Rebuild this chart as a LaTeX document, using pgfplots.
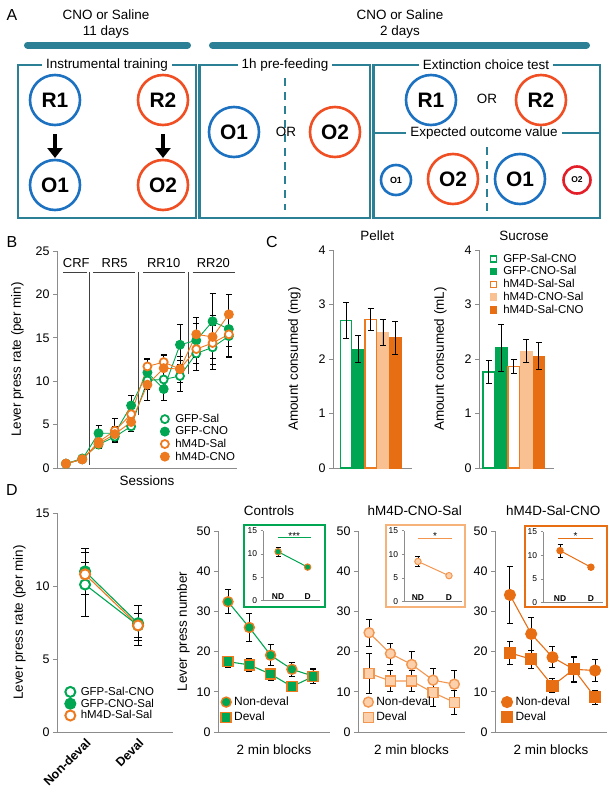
\documentclass[border=0pt]{standalone}
\usepackage{pgfplots}
\pgfplotsset{compat=1.18}
\usepackage{pgfplotstable}
\usepackage{fontspec}
\setmainfont{Liberation Sans}
\usetikzlibrary{arrows.meta}

\definecolor{gr}{RGB}{0,166,81}
\definecolor{orH}{RGB}{238,122,32}
\definecolor{orL}{RGB}{249,192,145}
\definecolor{orD}{RGB}{232,110,20}
\definecolor{orM}{RGB}{242,150,80}
\definecolor{peach}{RGB}{251,208,170}
\definecolor{tealA}{RGB}{43,128,150}
\definecolor{blueA}{RGB}{28,113,193}
\definecolor{redA}{RGB}{240,78,35}
\definecolor{redB}{RGB}{228,30,40}
\definecolor{axgray}{RGB}{140,140,140}

\newcommand{\fs}[1]{\fontsize{#1}{#1}\selectfont}
\newcommand{\cnode}[5]{\node[circle, draw=#1, line width=2.6bp, minimum size=#2bp, inner sep=0pt, font=\bfseries\fs{#3}] at (#4) {#5};}

\pgfplotstableread{
s  a    ea   b    eb   c    ec   d    ed
1  0.5  0.1  0.5  0.1  0.5  0.1  0.5  0.1
2  1.1  0.2  1.0  0.2  1.0  0.2  1.0  0.2
3  2.7  0.4  4.0  0.9  3.0  0.6  2.8  0.5
4  3.6  0.6  4.0  0.8  4.3  1.4  3.9  0.8
5  4.8  0.6  7.2  1.2  6.2  0.8  5.3  0.7
6  10.1 1.0  11.0 1.5  11.7 0.9  9.6  1.8
7  10.2 1.5  9.1  1.3  12.2 0.9  11.5 1.5
8  10.6 1.8  14.2 2.3  11.4 1.0  11.4 1.5
9  13.2 2.0  14.7 2.0  13.7 1.6  15.4 2.0
10 13.9 2.5  16.9 3.2  14.4 2.5  15.1 2.5
11 15.2 2.5  16.0 2.0  15.4 2.5  17.7 2.3
}\sessions

\pgfplotsset{
  panel/.style={scale only axis, anchor=south west, clip=false,
    axis x line*=bottom, axis y line*=left,
    axis line style={draw=axgray, line width=0.9bp},
    tick style={draw=axgray, line width=0.9bp},
    tick align=outside, major tick length=4bp,
    xtick=\empty,
    /pgf/number format/assume math mode=true,
    tick label style={font=\fs{12.5}},
    label style={font=\fs{13.5}},
    title style={font=\fs{13.5}},
    legend cell align=left,
  },
  inset/.style={scale only axis, anchor=south west, clip=false,
    axis x line*=bottom, axis y line*=left,
    axis line style={draw=axgray, line width=0.8bp},
    tick style={draw=axgray, line width=0.8bp},
    tick align=outside, major tick length=2.5bp,
    ymin=0, ymax=15, ytick={0,5,10,15},
    xtick={1,2}, xticklabels={ND,D}, major x tick style={draw=none},
    xticklabel style={anchor=south, yshift=0.5bp, font=\bfseries\fs{8.5}},
    yticklabel style={font=\fs{8.5}},
    /pgf/number format/assume math mode=true,
  },
  ebars/.style={error bars/y dir=both, error bars/y explicit,
    error bars/error bar style={black, line width=0.9bp, solid},
    error bars/error mark options={black, rotate=90, mark size=3bp, line width=0.9bp, solid}},
}

\begin{document}
\begin{tikzpicture}
\useasboundingbox (0bp,0bp) rectangle (614bp,-794bp);
\begin{scope}[x=1bp,y=-1bp]
% ---------------- Panel A ----------------
\node[font=\fs{16}] at (12,15) {A};
\node[font=\fs{13.5}, align=center, inner sep=0pt] at (106,24) {CNO or Saline\\[3bp]11 days};
\node[font=\fs{13.5}, align=center, inner sep=0pt] at (400,24) {CNO or Saline\\[3bp]2 days};
\draw[tealA, line width=7bp, line cap=round] (27.5,45) -- (187.5,45);
\draw[tealA, line width=7bp, line cap=round] (212.5,45) -- (586.5,45);
\draw[tealA, line width=2.5bp] (18,65) rectangle (196,218);
\draw[tealA, line width=2.5bp] (199.5,65) rectangle (370,218);
\draw[tealA, line width=2.5bp] (373.5,65) rectangle (600,218);
\draw[tealA, line width=2.5bp] (373.5,133) -- (600,133);
\node[fill=white, inner xsep=4bp, inner ysep=1bp, font=\fs{13.5}] at (107,65) {Instrumental training};
\node[fill=white, inner xsep=4bp, inner ysep=1bp, font=\fs{13.5}] at (285,65) {1h pre-feeding};
\node[fill=white, inner xsep=4bp, inner ysep=1bp, font=\fs{13.5}] at (486,65) {Extinction choice test};
\node[fill=white, inner xsep=4bp, inner ysep=1bp, font=\fs{13.5}] at (484,133) {Expected outcome value};
\cnode{blueA}{50}{21}{55,100}{R1}
\cnode{redA}{50}{21}{163,100}{R2}
\cnode{blueA}{50}{21}{55,185}{O1}
\cnode{redA}{50}{21}{163,185}{O2}
\draw[line width=4.5bp, -{Triangle[length=10bp,width=15bp]}] (55,134) -- (55,158);
\draw[line width=4.5bp, -{Triangle[length=10bp,width=15bp]}] (163,134) -- (163,158);
\draw[tealA, line width=2.5bp, dash pattern=on 8bp off 6bp] (285,78) -- (285,210);
\cnode{blueA}{50}{21}{234,132}{O1}
\node[font=\fs{13.5}] at (286,132) {OR};
\cnode{redA}{50}{21}{335,132}{O2}
\cnode{blueA}{50}{21}{431,100}{R1}
\node[font=\fs{13.5}] at (487,99) {OR};
\cnode{redA}{50}{21}{541,100}{R2}
\draw[tealA, line width=2.5bp, dash pattern=on 8bp off 6bp] (487,147) -- (487,214);
\cnode{blueA}{30}{9}{396,180}{O1}
\cnode{redA}{50}{21}{453,179}{O2}
\cnode{blueA}{50}{21}{520,179}{O1}
\cnode{redB}{27}{8.5}{577,180}{O2}
% panel letters
\node[font=\fs{16}] at (12,242) {B};
\node[font=\fs{16}] at (272,242) {C};
\node[font=\fs{16}] at (12,490) {D};
% inset frames
\draw[gr, line width=1.2bp] (244,525) rectangle (325,607);
\draw[orL!80!orH, line width=1.2bp] (386,525) rectangle (465,607);
\draw[orD, line width=1.2bp] (525,526) rectangle (607,607);
\end{scope}

% ---------------- Panel B ----------------
\begin{axis}[panel, at={(57bp,-468bp)}, width=180bp, height=217bp,
  xmin=0.45, xmax=11.5, ymin=0, ymax=25, ytick={0,5,...,25},
  xlabel={Sessions}, ylabel={Lever press rate (per min)}, ylabel shift=5bp,
  legend style={at={(axis cs:6.6,6.55)}, anchor=north west, draw=none, fill=none,
    font=\fs{11.5}, nodes={inner sep=0.9bp}, row sep=1bp,
    /tikz/every odd column/.append style={column sep=5bp}},
  legend image code/.code={\draw[#1] plot coordinates {(0bp,0bp)};}]
\addplot[black!75, line width=1bp, forget plot] coordinates {(2.45,0.35) (2.45,22.6)};
\addplot[black!75, line width=1bp, forget plot] coordinates {(5.47,6.1) (5.47,22.6)};
\addplot[black!75, line width=1bp, forget plot] coordinates {(8.5,10.8) (8.5,22.6)};
\addplot[black!75, line width=1bp, forget plot] coordinates {(0.83,22.55) (2.31,22.55)};
\addplot[black!75, line width=1bp, forget plot] coordinates {(2.68,22.55) (5.26,22.55)};
\addplot[black!75, line width=1bp, forget plot] coordinates {(5.76,22.55) (8.28,22.55)};
\addplot[black!75, line width=1bp, forget plot] coordinates {(8.77,22.55) (11.36,22.55)};
\node[font=\fs{13}] at (axis cs:1.63,23.6) {CRF};
\node[font=\fs{13}] at (axis cs:3.99,23.6) {RR5};
\node[font=\fs{13}] at (axis cs:7.0,23.6) {RR10};
\node[font=\fs{13}] at (axis cs:10.05,23.6) {RR20};
\addplot[gr, line width=0.9bp, mark=*, mark size=4bp, mark options={fill=white, draw=gr, line width=1.8bp}, ebars]
  table[x=s, y=a, y error=ea] {\sessions};
\addplot[gr, line width=0.9bp, mark=*, mark size=4.5bp, mark options={fill=gr, draw=gr}, ebars]
  table[x=s, y=b, y error=eb] {\sessions};
\addplot[orH, line width=0.9bp, mark=*, mark size=4bp, mark options={fill=white, draw=orH, line width=1.8bp}, ebars]
  table[x=s, y=c, y error=ec] {\sessions};
\addplot[orH, line width=0.9bp, mark=*, mark size=4.5bp, mark options={fill=orH, draw=orH}, ebars]
  table[x=s, y=d, y error=ed] {\sessions};
\legend{GFP-Sal, GFP-CNO, hM4D-Sal, hM4D-CNO}
\end{axis}

% ---------------- Panel C: Pellet ----------------
\begin{axis}[panel, at={(333bp,-468bp)}, width=79bp, height=218bp,
  xmin=-0.06, xmax=6.36, ymin=0, ymax=4, ytick={0,1,2,3,4},
  ylabel={Amount consumed (mg)}, ylabel shift=11bp, title={Pellet},
  title style={at={(axis description cs:0.56,1)}, anchor=south},
  ybar, bar width=11.5bp, /pgf/bar shift=0pt]
\addplot[draw=gr, fill=white, line width=1.2bp, ebars] coordinates {(1,2.70) +- (0,0.33)};
\addplot[draw=gr, fill=gr, line width=0.6bp, ebars] coordinates {(2,2.18) +- (0,0.25)};
\addplot[draw=orH, fill=white, line width=1.2bp, ebars] coordinates {(3,2.73) +- (0,0.20)};
\addplot[draw=orL, fill=orL, line width=0.6bp, ebars] coordinates {(4,2.49) +- (0,0.24)};
\addplot[draw=orD, fill=orD, line width=0.6bp, ebars] coordinates {(5,2.39) +- (0,0.30)};
\end{axis}

% ---------------- Panel C: Sucrose ----------------
\begin{axis}[panel, at={(479bp,-468bp)}, width=75bp, height=218bp,
  xmin=0.22, xmax=6.22, ymin=0, ymax=4, ytick={0,1,2,3,4},
  ylabel={Amount consumed (mL)}, ylabel shift=11bp, title={Sucrose},
  title style={at={(axis description cs:0.6,1)}, anchor=south},
  ybar, bar width=11.5bp, /pgf/bar shift=0pt,
  legend style={at={(axis description cs:0.1,0.997)}, anchor=north west, draw=none, fill=none,
    font=\fs{11.5}, nodes={inner sep=1bp}, row sep=1bp,
    /tikz/every odd column/.append style={column sep=5bp}},
  legend image code/.code={\draw[#1, line width=1.6bp] (0bp,-3bp) rectangle (6bp,3bp);}]
\addplot[draw=gr, fill=white, line width=1.2bp, ebars] coordinates {(1,1.76) +- (0,0.21)};
\addplot[draw=gr, fill=gr, line width=0.6bp, ebars] coordinates {(2,2.21) +- (0,0.43)};
\addplot[draw=orH, fill=white, line width=1.2bp, ebars] coordinates {(3,1.86) +- (0,0.13)};
\addplot[draw=orL, fill=orL, line width=0.6bp, ebars] coordinates {(4,2.15) +- (0,0.21)};
\addplot[draw=orD, fill=orD, line width=0.6bp, ebars] coordinates {(5,2.05) +- (0,0.25)};
\legend{GFP-Sal-CNO, GFP-CNO-Sal, hM4D-Sal-Sal, hM4D-CNO-Sal, hM4D-Sal-CNO}
\end{axis}

% ---------------- Panel D1 ----------------
\begin{axis}[panel, at={(57bp,-732bp)}, width=116bp, height=219bp,
  xmin=0.47, xmax=2.66, ymin=0, ymax=15, ytick={0,5,10,15},
  xtick={1,2}, xticklabels={Non-deval,Deval}, major x tick style={draw=none},
  xticklabel style={rotate=45, anchor=north east, font=\bfseries\fs{12.5}, inner sep=1bp},
  ylabel={Lever press rate (per min)}, ylabel shift=3bp,
  legend style={at={(axis description cs:0.04,0.22)}, anchor=north west, draw=none, fill=none,
    font=\fs{11.5}, nodes={inner sep=1bp}, row sep=0pt,
    /tikz/every odd column/.append style={column sep=4bp}},
  legend image code/.code={\draw[#1] plot coordinates {(0bp,0bp)};}]
\addplot[gr, line width=1.1bp, mark=*, mark size=5bp, mark options={fill=white, draw=gr, line width=2bp}, ebars,
  error bars/error mark options={black, rotate=90, mark size=4bp, line width=0.9bp}]
  coordinates {(1,10.1) +- (0,2.2) (2,7.3) +- (0,1.4)};
\addplot[gr, line width=1.1bp, mark=*, mark size=5.5bp, mark options={fill=gr, draw=gr}, ebars,
  error bars/error mark options={black, rotate=90, mark size=4bp, line width=0.9bp}]
  coordinates {(1,11.0) +- (0,1.6) (2,7.45) +- (0,1.2)};
\addplot[orH, line width=1.1bp, mark=*, mark size=5bp, mark options={fill=white, draw=orH, line width=2bp}, ebars,
  error bars/error mark options={black, rotate=90, mark size=4bp, line width=0.9bp}]
  coordinates {(1,10.8) +- (0,0.8) (2,7.3) +- (0,0.8)};
\legend{GFP-Sal-CNO, GFP-CNO-Sal, hM4D-Sal-Sal}
\end{axis}

% ---------------- Panel D2 Controls ----------------
\begin{axis}[panel, at={(218bp,-732bp)}, width=112bp, height=201bp,
  xmin=0.53, xmax=5.79, ymin=0, ymax=50, ytick={0,10,...,50},
  title={Controls}, title style={at={(axis description cs:0.455,1)}, anchor=south, yshift=6bp},
  xlabel={2 min blocks}, xlabel style={yshift=-5bp}, ylabel={Lever press number},
  legend style={at={(axis description cs:0.0,0.19)}, anchor=north west, draw=none, fill=none,
    font=\fs{12}, nodes={inner sep=1bp}, row sep=3bp,
    /tikz/every odd column/.append style={column sep=2bp}},
  legend image code/.code={\draw[#1] plot coordinates {(0bp,0bp)};}]
\addplot[gr, line width=1.1bp, mark=*, mark size=5bp, mark options={fill=gr, draw=orH, line width=1.4bp}, ebars]
  coordinates {(1,32.4) +- (0,3.0) (2,26.0) +- (0,3.5) (3,19.1) +- (0,2.6) (4,15.6) +- (0,1.8) (5,13.9) +- (0,1.8)};
\addplot[gr, line width=1.1bp, mark=square*, mark size=5bp, mark options={fill=gr, draw=orH, line width=1.4bp}, ebars]
  coordinates {(1,17.5) +- (0,1.4) (2,16.7) +- (0,1.7) (3,14.4) +- (0,1.5) (4,11.3) +- (0,1.3) (5,13.8) +- (0,1.8)};
\legend{Non-deval, Deval}
\end{axis}

% ---------------- Panel D3 hM4D-CNO-Sal ----------------
\begin{axis}[panel, at={(358bp,-732bp)}, width=107bp, height=201bp,
  xmin=0.48, xmax=5.5, ymin=0, ymax=50, ytick={0,10,...,50},
  title={hM4D-CNO-Sal}, title style={at={(axis description cs:0.53,1)}, anchor=south, yshift=6bp},
  xlabel={2 min blocks}, xlabel style={yshift=-5bp},
  legend style={at={(axis description cs:0.02,0.19)}, anchor=north west, draw=none, fill=none,
    font=\fs{12}, nodes={inner sep=1bp}, row sep=3bp,
    /tikz/every odd column/.append style={column sep=2bp}},
  legend image code/.code={\draw[#1] plot coordinates {(0bp,0bp)};}]
\addplot[orM, line width=1.1bp, mark=*, mark size=5bp, mark options={fill=peach, draw=orM, line width=1.4bp}, ebars]
  coordinates {(1,24.7) +- (0,3.4) (2,19.5) +- (0,2.6) (3,16.8) +- (0,3.2) (4,12.9) +- (0,3.0) (5,11.9) +- (0,3.5)};
\addplot[orM, line width=1.1bp, mark=square*, mark size=5bp, mark options={fill=peach, draw=orM, line width=1.4bp}, ebars]
  coordinates {(1,14.6) +- (0,4.9) (2,12.7) +- (0,2.7) (3,12.7) +- (0,2.7) (4,9.8) +- (0,3.5) (5,7.4) +- (0,3.0)};
\legend{Non-deval, Deval}
\end{axis}

% ---------------- Panel D4 hM4D-Sal-CNO ----------------
\begin{axis}[panel, at={(495bp,-732bp)}, width=112bp, height=201bp,
  xmin=0.3, xmax=5.56, ymin=0, ymax=50, ytick={0,10,...,50},
  title={hM4D-Sal-CNO}, title style={at={(axis description cs:0.52,1)}, anchor=south, yshift=6bp},
  xlabel={2 min blocks}, xlabel style={yshift=-5bp},
  legend style={at={(axis description cs:0.03,0.19)}, anchor=north west, draw=none, fill=none,
    font=\fs{12}, nodes={inner sep=1bp}, row sep=3bp,
    /tikz/every odd column/.append style={column sep=2bp}},
  legend image code/.code={\draw[#1] plot coordinates {(0bp,0bp)};}]
\addplot[orD, line width=1.1bp, mark=*, mark size=5.5bp, mark options={fill=orD, draw=orD}, ebars]
  coordinates {(1,34.1) +- (0,7.0) (2,24.4) +- (0,4.0) (3,18.6) +- (0,2.6) (4,15.6) +- (0,3.3) (5,15.3) +- (0,2.7)};
\addplot[orD, line width=1.1bp, mark=square*, mark size=5.5bp, mark options={fill=orD, draw=orD}, ebars]
  coordinates {(1,19.7) +- (0,2.8) (2,18.1) +- (0,2.2) (3,11.5) +- (0,1.7) (4,15.6) +- (0,3.0) (5,8.6) +- (0,1.8)};
\legend{Non-deval, Deval}
\end{axis}

% ---------------- Insets ----------------
\begin{axis}[inset, at={(263bp,-600.7bp)}, width=57bp, height=70bp, xmin=0.49, xmax=2.42]
\addplot[gr, line width=1bp] coordinates {(1,13.5) (2.1,13.5)};
\node[font=\fs{10}, anchor=base, inner sep=0pt] at (axis cs:1.55,13.2) {***};
\addplot[gr, line width=1bp, mark=*, mark size=3.2bp, mark options={fill=gr, draw=orH, line width=1bp}, ebars,
  error bars/error mark options={black, rotate=90, mark size=2.5bp, line width=0.8bp}]
  coordinates {(1,10.5) +- (0,1.0) (2,7.2) +- (0,0.4)};
\end{axis}
\begin{axis}[inset, at={(404bp,-601.7bp)}, width=58bp, height=71bp, xmin=0.55, xmax=2.42]
\addplot[orM, line width=1bp] coordinates {(1,13.4) (2.1,13.4)};
\node[font=\fs{10}, anchor=base, inner sep=0pt] at (axis cs:1.55,13.1) {*};
\addplot[orM, line width=1bp, mark=*, mark size=3.2bp, mark options={fill=peach, draw=orM, line width=1bp}, ebars,
  error bars/error mark options={black, rotate=90, mark size=2.5bp, line width=0.8bp}]
  coordinates {(1,8.5) +- (0,1.1) (2,5.5) +- (0,0.3)};
\end{axis}
\begin{axis}[inset, at={(543bp,-602.7bp)}, width=60bp, height=71bp, xmin=0.45, xmax=2.39]
\addplot[orD, line width=1bp] coordinates {(0.94,13.6) (2.06,13.6)};
\node[font=\fs{10}, anchor=base, inner sep=0pt] at (axis cs:1.5,13.3) {*};
\addplot[orD, line width=1bp, mark=*, mark size=3.2bp, mark options={fill=orD, draw=orD}, ebars,
  error bars/error mark options={black, rotate=90, mark size=2.5bp, line width=0.8bp}]
  coordinates {(1,11.0) +- (0,1.4) (2,7.5) +- (0,0.4)};
\end{axis}
\end{tikzpicture}
\end{document}
